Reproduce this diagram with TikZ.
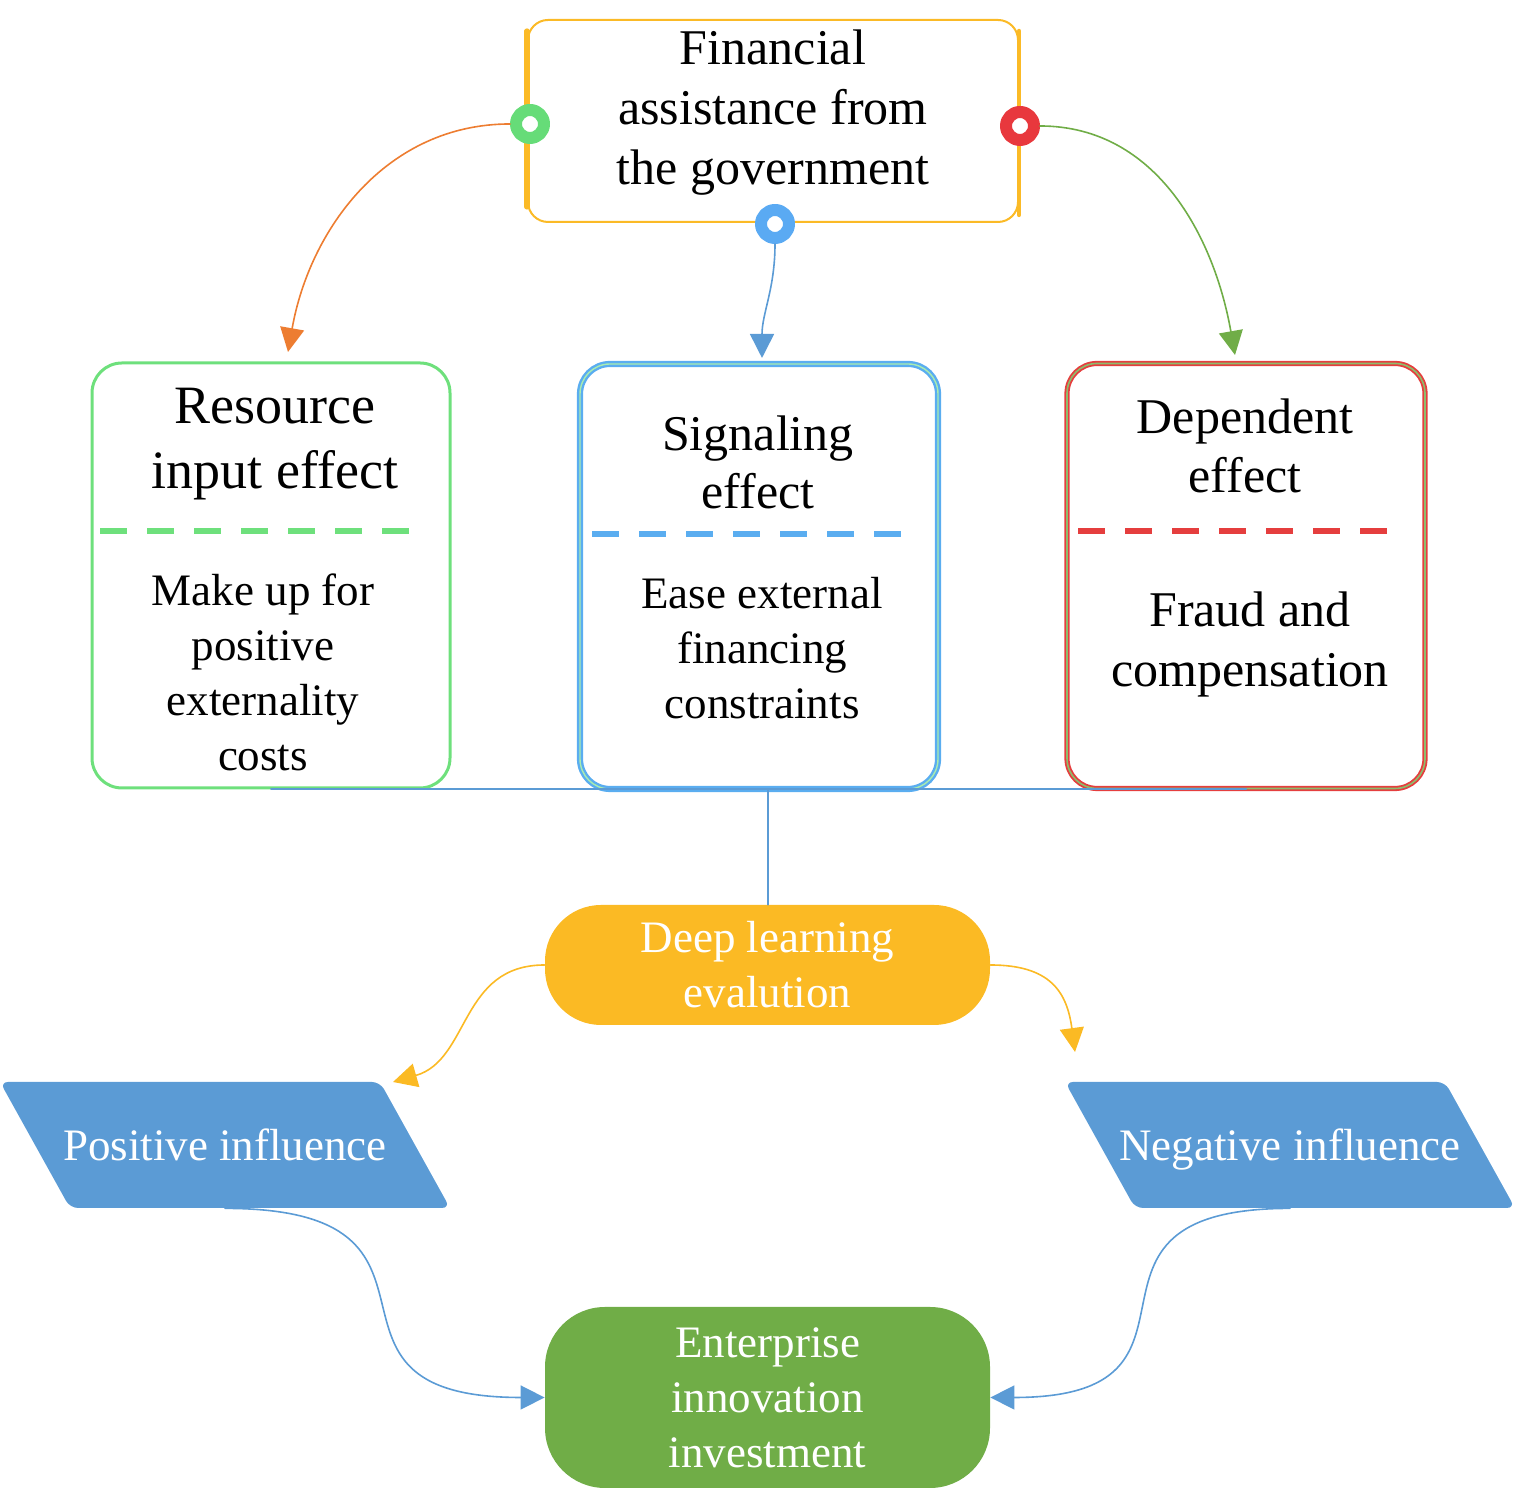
\documentclass[tikz,border=0pt]{standalone}
\usepackage{fontspec}
\setmainfont{Liberation Serif}
\usepackage{xcolor}
\usetikzlibrary{arrows.meta}

\definecolor{govyellow}{HTML}{FBBA26}
\definecolor{ringgreen}{HTML}{66DC78}
\definecolor{ringred}{HTML}{E8383D}
\definecolor{ringblue}{HTML}{5AAAF3}
\definecolor{arrorange}{HTML}{ED7D31}
\definecolor{arrgreen}{HTML}{70AD47}
\definecolor{arrblue}{HTML}{5B9BD5}
\definecolor{boxgreen}{HTML}{6EE07C}
\definecolor{boxblue}{HTML}{5AADF0}
\definecolor{boxred}{HTML}{E53E3E}
\definecolor{deepfill}{HTML}{FBBA24}

\begin{document}
\begin{tikzpicture}[line cap=round,line join=round,>={Triangle[length=12pt,width=12pt]},x=0.5pt,y=0.5pt,
  effbox/.style={draw=#1,line width=1.5pt,rounded corners=15pt,minimum width=179pt,minimum height=212.5pt,inner sep=0pt},
  sepline/.style={draw=#1,line width=3pt,line cap=butt,dash pattern=on 13.5pt off 10pt},
  ring/.style={circle,draw=#1,fill=white,line width=6pt,minimum size=14pt,inner sep=0pt},
  link/.style={->,draw=#1,line width=0.8pt},
  bigtxt/.style={align=center,inner sep=0pt,font=\fontsize{25pt}{30pt}\selectfont},
  smalltxt/.style={align=center,inner sep=0pt,font=\fontsize{22.5pt}{27.5pt}\selectfont},
  pill/.style={fill=#1,text=white,align=center,minimum width=222.5pt,font=\fontsize{22.5pt}{27.5pt}\selectfont}]
\useasboundingbox (0,0) rectangle (1515,1508);

% top box
\node[draw=govyellow,line width=1pt,rounded corners=10pt,minimum width=245pt,minimum height=101pt] (gov) at (773,1387) {};
\node[bigtxt] (govtext) at (773,1395) {Financial\\assistance from\\the government};
\draw[govyellow,line width=2.6pt] ([yshift=-6pt]gov.north west) -- ([yshift=8pt]gov.south west);
\draw[govyellow,line width=2.2pt] ([yshift=-6pt]gov.north east) -- ([yshift=4pt]gov.south east);
\node[ring=ringgreen] (rg) at (530,1384) {};
\node[ring=ringred] (rr) at (1020,1382) {};
\node[ring=ringblue] (rb) at (775,1284) {};

% three effects
\node[effbox=boxgreen] (res) at (271,932.5) {};
\node[effbox=boxblue,line width=1.2pt,double=boxgreen!60,double distance=0.7pt] (sig) at (759,931.5) {};
\node[effbox=boxred,line width=0.9pt,double=arrgreen!80,double distance=0.8pt] (dep) at (1246,932) {};

\node[align=center,inner sep=0pt,font=\fontsize{27pt}{32.5pt}\selectfont] (restitle) at (275,1063.5) {Resource\\input effect};
\node[smalltxt] (resbody) at (263,835.5) {Make up for\\positive\\externality\\costs};
\node[bigtxt,font=\fontsize{25pt}{29pt}\selectfont] (sigtitle) at (758,1046) {Signaling\\effect};
\node[smalltxt] (sigbody) at (762,860) {Ease external\\financing\\constraints};
\node[bigtxt,font=\fontsize{25pt}{29.5pt}\selectfont] (deptitle) at (1245,1062.5) {Dependent\\effect};
\node[bigtxt] (depbody) at (1250,864) {Fraud and\\compensation};

\draw[sepline=boxgreen] (100,977) -- (415,977);
\draw[sepline=boxblue] (592,974) -- (908,974);
\draw[sepline=boxred] (1078,977) -- (1395,977);

% arrows from the top box
\coordinate (t1) at (288,1156);
\coordinate (t2) at (762,1150);
\coordinate (t3) at (1235,1153);
\draw[link=arrorange] (rg.west) to[out=180,in=80] (t1);
\draw[link=arrblue] (rb.south) to[out=-90,in=90] (t2);
\draw[link=arrgreen] (rr.east) to[out=0,in=100] (t3);

% evaluation
\node[pill=deepfill,rounded corners=28pt,minimum height=60pt] (deep) at (767.5,543) {Deep learning\\evalution};
\draw[arrblue,line width=1pt] (res.south) -- (res.south -| dep.south);
\draw[arrblue,line width=1pt] (deep.north) -- (deep.north |- res.south);

\coordinate (t4) at (393,426);
\coordinate (t5) at (1075,456);
\draw[link=deepfill] (deep.west) .. controls +(-85,0) and +(77,22) .. (t4);
\draw[link=deepfill] (deep.east) .. controls +(60,0) and +(-8,60) .. (t5);

% influences
\fill[arrblue,rounded corners=4pt] (0,426) -- (380,426) -- (450,300) -- (70,300) -- cycle;
\fill[arrblue,rounded corners=4pt] (1065,426) -- (1445,426) -- (1515,300) -- (1135,300) -- cycle;
\node[smalltxt,text=white,text height=18pt,text depth=2.6pt,minimum height=63pt] (pos) at (225,363) {Positive influence};
\node[smalltxt,text=white,text height=18pt,text depth=2.6pt,minimum height=63pt] (neg) at (1290,363) {Negative influence};

\node[pill=arrgreen,rounded corners=30pt,minimum height=90.5pt] (ent) at (767.5,110.5) {Enterprise\\innovation\\investment};
\draw[link=arrblue] (pos.south) to[out=0,in=180,looseness=1.8] (ent.west);
\draw[link=arrblue] (neg.south) to[out=180,in=0,looseness=1.8] (ent.east);
\end{tikzpicture}
\end{document}
